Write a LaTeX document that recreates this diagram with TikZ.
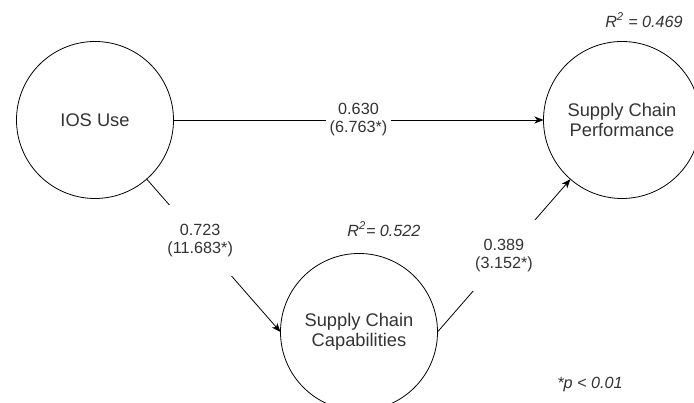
\documentclass[tikz,border=0pt]{standalone}
\usepackage{fontspec}
\setmainfont{Liberation Sans}
\usepackage{tkz-graph}
\usetikzlibrary{arrows.meta}
\definecolor{txtgray}{HTML}{333333}

\begin{document}
\begin{tikzpicture}[x=1pt,y=1pt]
      \useasboundingbox (0,0) rectangle (694,403);
      \tikzset{
      VertexStyle/.style = {draw, circle, minimum size=157pt, inner sep=0pt,
        line width=0.8pt, align=center, text=txtgray,
        font=\fontsize{18.3}{20.5}\selectfont},
      EdgeStyle/.style = {line width=0.8pt,
        -{Stealth[length=9pt,width=7pt,inset=2.5pt]}},
      LabelStyle/.style = {fill=white, align=center, text=txtgray,
        inner xsep=4pt, inner ysep=3pt, font=\fontsize{16.2}{18}\selectfont},
      RsqStyle/.style = {text=txtgray, font=\fontsize{16.2}{18}\selectfont\itshape}}
      \Vertex[x=95,y=283,L={IOS Use}]{ios}
      \Vertex[x=622,y=283,L={Supply Chain\\Performance}]{scp}
      \Vertex[x=359,y=71,L={Supply Chain\\Capabilities}]{scc}

      \Edge[label={0.630\\(6.763*)}](ios)(scp)
      \draw[EdgeStyle] (ios) -- node[LabelStyle, pos=0.4, inner ysep=19pt]
        {0.723\\(11.683*)} (scc.west);
      \draw[EdgeStyle] (scc.east) -- node[LabelStyle, inner ysep=19pt]
        {0.389\\(3.152*)} (scp);

      \node[RsqStyle] (rsqscp) at (644,383) {R\textsuperscript{2} = 0.469};
      \node[RsqStyle] (rsqscc) at (384,174) {R\textsuperscript{2}= 0.522};
      \node[RsqStyle] (pnote) at (590,18) {*p < 0.01};
\end{tikzpicture}
\end{document}
